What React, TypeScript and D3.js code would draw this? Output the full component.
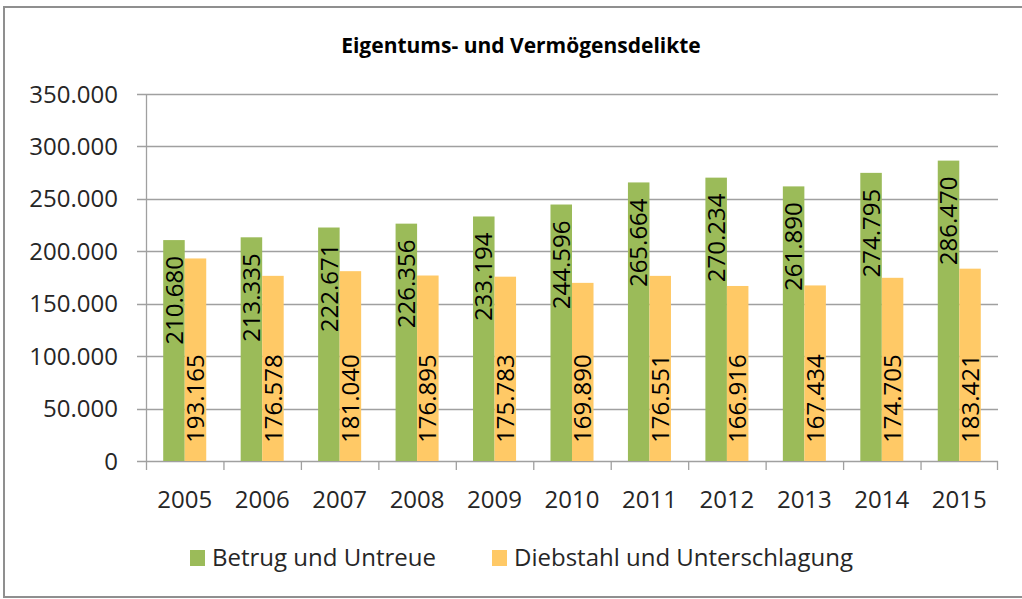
import React from "react";
import * as d3 from "d3";

const years = ["2005","2006","2007","2008","2009","2010","2011","2012","2013","2014","2015"];
const betrug = [210680,213335,222671,226356,233194,244596,265664,270234,261890,274795,286470];
const diebstahl = [193165,176578,181040,176895,175783,169890,176551,166916,167434,174705,183421];
const yTicks = [0,50000,100000,150000,200000,250000,300000,350000];
const seriesNames = ["Betrug und Untreue","Diebstahl und Unterschlagung"];
const seriesColors = ["#9BBB59","#FFC966"];
const title = "Eigentums- und Vermögensdelikte";

const W = 1022, H = 599;
const plot = { left: 146, right: 998, top: 94, bottom: 461 };
const FONT = "'Open Sans', 'Noto Sans', sans-serif";

const fmt = (v: number) => v === 0 ? "0" : d3.format(",")(v).replace(/,/g, ".");

export default function App() {
  const x = d3.scaleBand<string>().domain(years).range([plot.left, plot.right]).paddingInner(0).paddingOuter(0);
  const bw = x.bandwidth();
  const barW = bw / 3.6;
  const gap = (bw - 2 * barW) / 2;
  const y = d3.scaleLinear().domain([0, 350000]).range([plot.bottom, plot.top]);
  const series = [betrug, diebstahl];

  return (
    <svg width={W} height={H} style={{ position: "absolute", left: 0, top: 0, background: "#fff" }} fontFamily={FONT}>
      <rect x={4} y={7} width={1040} height={590} fill="#fff" stroke="#8f8f8f" strokeWidth={2} />
      <text x={521} y={53} textAnchor="middle" fontSize={21} fontWeight="bold" fill="#000">{title}</text>
      {yTicks.map((t) => (
        <g key={t}>
          <line x1={plot.left - 9} x2={plot.right} y1={Math.round(y(t)) + 0.5} y2={Math.round(y(t)) + 0.5} stroke="#a0a0a0" strokeWidth={1.3} />
          <text x={118} y={y(t)} dy="0.36em" textAnchor="end" fontSize={24} fill="#262626">{fmt(t)}</text>
        </g>
      ))}
      <line x1={plot.left + 0.5} x2={plot.left + 0.5} y1={plot.top} y2={plot.bottom} stroke="#a0a0a0" strokeWidth={1.3} />
      {years.map((yr) => (
        <line key={"t" + yr} x1={x(yr)! + 0.5} x2={x(yr)! + 0.5} y1={plot.bottom} y2={plot.bottom + 9} stroke="#a0a0a0" strokeWidth={1.3} />
      ))}
      <line x1={plot.right - 0.5} x2={plot.right - 0.5} y1={plot.bottom} y2={plot.bottom + 9} stroke="#a0a0a0" strokeWidth={1.3} />
      {years.map((yr, i) => (
        <g key={yr}>
          {series.map((s, k) => {
            const bx = x(yr)! + gap + k * barW;
            const top = y(s[i]);
            const cx = bx + barW / 2;
            const ly = k === 0 ? top + 16 : plot.bottom - 18;
            return (
              <g key={k}>
                <rect x={bx} y={top} width={barW} height={plot.bottom - top} fill={seriesColors[k]} />
                <text transform={`translate(${cx},${ly}) rotate(-90)`} dy="0.36em" textAnchor={k === 0 ? "end" : "start"} fontSize={24} fill="#000">{fmt(s[i])}</text>
              </g>
            );
          })}
          <text x={x(yr)! + bw / 2} y={508} textAnchor="middle" fontSize={24} fill="#262626">{yr}</text>
        </g>
      ))}
      {[190, 492].map((lx, k) => (
        <g key={"l" + k}>
          <rect x={lx} y={550} width={15} height={16} fill={seriesColors[k]} />
          <text x={lx + 22} y={566} fontSize={24} fill="#262626">{seriesNames[k]}</text>
        </g>
      ))}
    </svg>
  );
}
